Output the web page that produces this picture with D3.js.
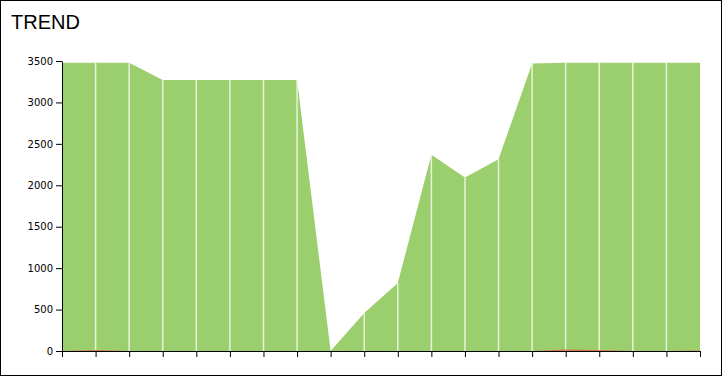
<!DOCTYPE html>
<html>
<head>
<meta charset="utf-8">
<script src="https://cdn.jsdelivr.net/npm/d3@7"></script>
<style>
  html, body { margin: 0; padding: 0; background: #fff; }
  #chart { width: 722px; height: 376px; }
  .axis text { font-family: "DejaVu Sans", sans-serif; font-size: 10px; fill: #000; }
  .axis path, .axis line { stroke: #000; }
</style>
</head>
<body>
<div id="chart"></div>
<script>
// data
const categories = d3.range(1, 21);
const trendValues = [3480, 3480, 3480, 3270, 3270, 3270, 3270, 3270, 0, 460,
                     820, 2370, 2095, 2315, 3470, 3480, 3480, 3480, 3480, 3480];
const lowValues = [0, 12, 0, 0, 0, 0, 0, 0, 0, 0,
                   0, 0, 0, 0, 0, 18, 12, 0, 0, 6];
const yTicks = [0, 500, 1000, 1500, 2000, 2500, 3000, 3500];

const W = 722, H = 376;
const margin = { top: 61, right: 22, bottom: 25, left: 62 };
const width = W - margin.left - margin.right;
const height = H - margin.top - margin.bottom;

const root = d3.select("#chart").append("svg")
    .attr("width", W)
    .attr("height", H);

// outer frame
root.append("rect")
    .attr("x", 0.5).attr("y", 0.5)
    .attr("width", W - 1).attr("height", H - 1)
    .attr("fill", "none")
    .attr("stroke", "#000");

root.append("text")
    .attr("x", 11)
    .attr("y", 29)
    .style("font-family", "'Liberation Sans', Arial, sans-serif")
    .style("font-size", "20px")
    .text("TREND");

const svg = root.append("g")
    .attr("transform", "translate(" + margin.left + "," + margin.top + ")");

const x = d3.scalePoint()
    .domain(categories)
    .range([0, width]);

const y = d3.scaleLinear()
    .domain([0, 3500])
    .range([height, 0]);

const rows = categories.map((c, i) => ({ key: c, trend: trendValues[i], low: lowValues[i] }));

const area = d3.area()
    .x(d => x(d.key))
    .y0(y(0));

svg.append("path")
    .datum(rows)
    .attr("fill", "#9bcf6e")
    .attr("d", area.y1(d => y(d.trend)));

// white separators at every point
svg.selectAll("line.sep")
    .data(rows.slice(1, -1))
    .enter()
    .append("line")
    .attr("class", "sep")
    .attr("x1", d => x(d.key))
    .attr("x2", d => x(d.key))
    .attr("y1", d => y(d.trend))
    .attr("y2", y(0))
    .attr("stroke", "#fff")
    .attr("stroke-opacity", 0.75)
    .attr("stroke-width", 1.5);

svg.append("path")
    .datum(rows)
    .attr("fill", "#e0643a")
    .attr("fill-opacity", 0.8)
    .attr("d", d3.area().x(d => x(d.key)).y0(y(0)).y1(d => y(d.low)));

svg.append("g")
    .attr("class", "axis")
    .attr("transform", "translate(0," + height + ")")
    .call(d3.axisBottom(x).tickSize(6).tickFormat(""));

svg.append("g")
    .attr("class", "axis")
    .call(d3.axisLeft(y).tickValues(yTicks).tickSize(6).tickSizeOuter(0).tickFormat(d3.format("d")));
</script>
</body>
</html>
